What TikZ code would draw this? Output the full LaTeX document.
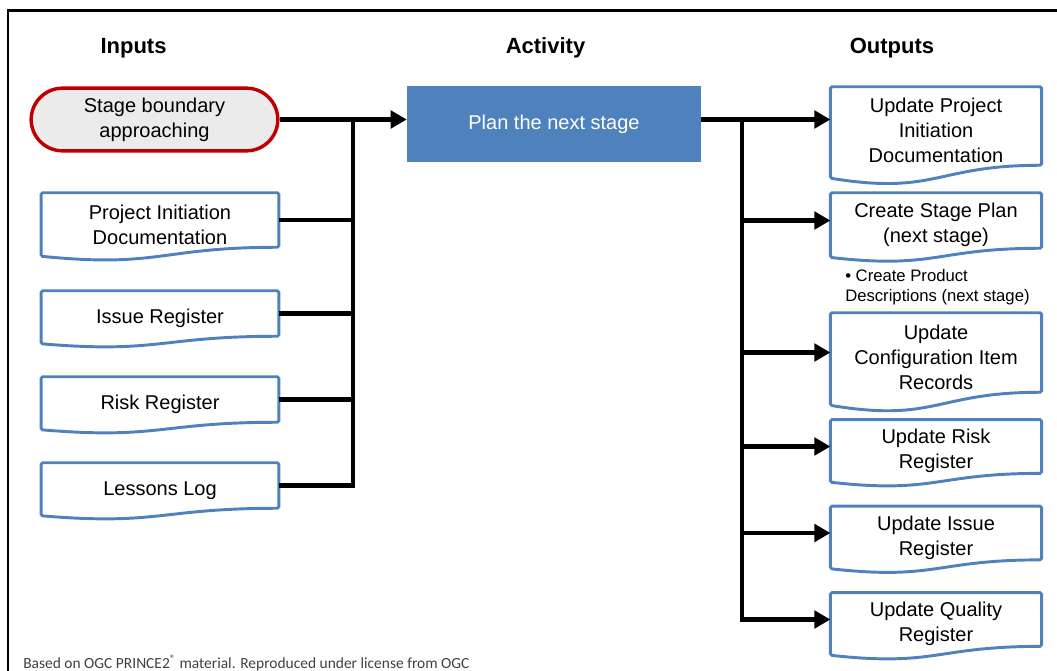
\documentclass[tikz,border=0pt]{standalone}
\usepackage{fontspec}
\setmainfont{Liberation Sans}
\newfontfamily\notefont{Carlito}
\usetikzlibrary{arrows.meta,calc}
\definecolor{docblue}{HTML}{4F81BD}
\definecolor{evred}{HTML}{C00000}
\definecolor{evgray}{HTML}{EBEBEB}
\definecolor{notegray}{HTML}{404040}
\newcommand{\mainsize}{\fontsize{15}{18.8}\selectfont}
\newcommand{\docstrut}{\rule{0pt}{18pt}}
\tikzset{
  evbox/.style={draw=evred, line width=2.6pt, fill=evgray, rounded corners=23.5pt, minimum width=185pt, minimum height=47pt, align=center, font=\mainsize},
  actbox/.style={fill=docblue, text=white, minimum width=220.5pt, minimum height=57pt, font=\mainsize},
  indoc/.style={minimum width=178pt, minimum height=33.75pt, align=center, font=\mainsize, inner sep=0pt},
  outdoc/.style={minimum width=158pt, align=center, font=\mainsize, inner sep=0pt},
  docline/.style={draw=docblue, line width=2.2pt, rounded corners=1.2pt},
  conn/.style={line width=3.6pt},
  farr/.style={conn, -{Triangle[length=12pt,width=13pt]}},
  head/.style={font=\fontsize{16.5}{20}\selectfont\bfseries},
  frame/.style={line width=1.6pt}
}

\begin{document}
\begin{tikzpicture}[x=0.75pt, y=-0.75pt]
\useasboundingbox (0,0) rectangle (1057,671);
\draw[frame] (8,671) -- (8,10.5) -- (1057,10.5);

% column heads
\node[head] (hin) at (133.5,48) {Inputs};
\node[head] (hact) at (545.5,48) {Activity};
\node[head] (hout) at (892,48) {Outputs};

% inputs
\node[evbox] (ev) at (154.5,119.5) {Stage boundary\\approaching};
\node[indoc, minimum height=40.5pt] (pid) at (160,220) {\docstrut Project Initiation\\Documentation};
\node[indoc] (iss) at (160,313.5) {\docstrut Issue Register};
\node[indoc] (risk) at (160,399.5) {\docstrut Risk Register};
\node[indoc] (les) at (160,485.5) {\docstrut Lessons Log};

% activity
\node[actbox] (act) at (554,124) {Plan the next stage};

% outputs
\node[outdoc, minimum height=58.5pt] (o1) at (936,126) {\docstrut Update Project\\Initiation\\Documentation};
\node[outdoc, minimum height=41.25pt] (o2) at (936,220.5) {\docstrut Create Stage Plan\\(next stage)};
\node[font=\fontsize{12.5}{15}\selectfont, align=left, anchor=west, inner sep=0pt] (bul) at (845,287) {\textbullet\ Create Product\\Descriptions (next stage)};
\node[outdoc, minimum height=59.25pt] (o3) at (936,352.5) {\docstrut Update\\Configuration Item\\Records};
\node[outdoc, minimum height=39.75pt] (o4) at (936,446.5) {\docstrut Update Risk\\Register};
\node[outdoc, minimum height=39pt] (o5) at (936,533) {\docstrut Update Issue\\Register};
\node[outdoc, minimum height=38.25pt] (o6) at (936,619.5) {\docstrut Update Quality\\Register};

\node[font=\notefont\fontsize{11.6}{14}\selectfont, text=notegray, anchor=base west, inner sep=0pt] (src) at (23,668) {Based on OGC PRINCE2\textsuperscript{®} material. Reproduced under license from OGC};

% document outlines
\foreach \d in {pid,iss,risk,les,o1,o2,o3,o4,o5,o6}
  \draw[docline] (\d.north west) -- (\d.north east) -- (\d.south east)
    .. controls (\d.south) and ($(\d.north)!1.381!(\d.south)$) .. ($(\d.north west)!1.1646!(\d.south west)$) -- cycle;

% connectors
\coordinate (lbus) at (353,0);
\coordinate (rbus) at (742,0);
\draw[farr] (ev.east) -- (ev.east -| act.west);
\foreach \i in {pid,iss,risk}
  \draw[conn] (\i.east) -- (\i.east -| lbus);
\draw[conn] (les.east) -| (ev.east -| lbus);
\draw[farr] (ev.east -| act.east) -- (ev.east -| o1.west);
\draw[farr] (ev.east -| rbus) |- (o6.west);
\foreach \o in {o2,o3,o4,o5}
  \draw[farr] (rbus |- \o.west) -- (\o.west);
\end{tikzpicture}
\end{document}
